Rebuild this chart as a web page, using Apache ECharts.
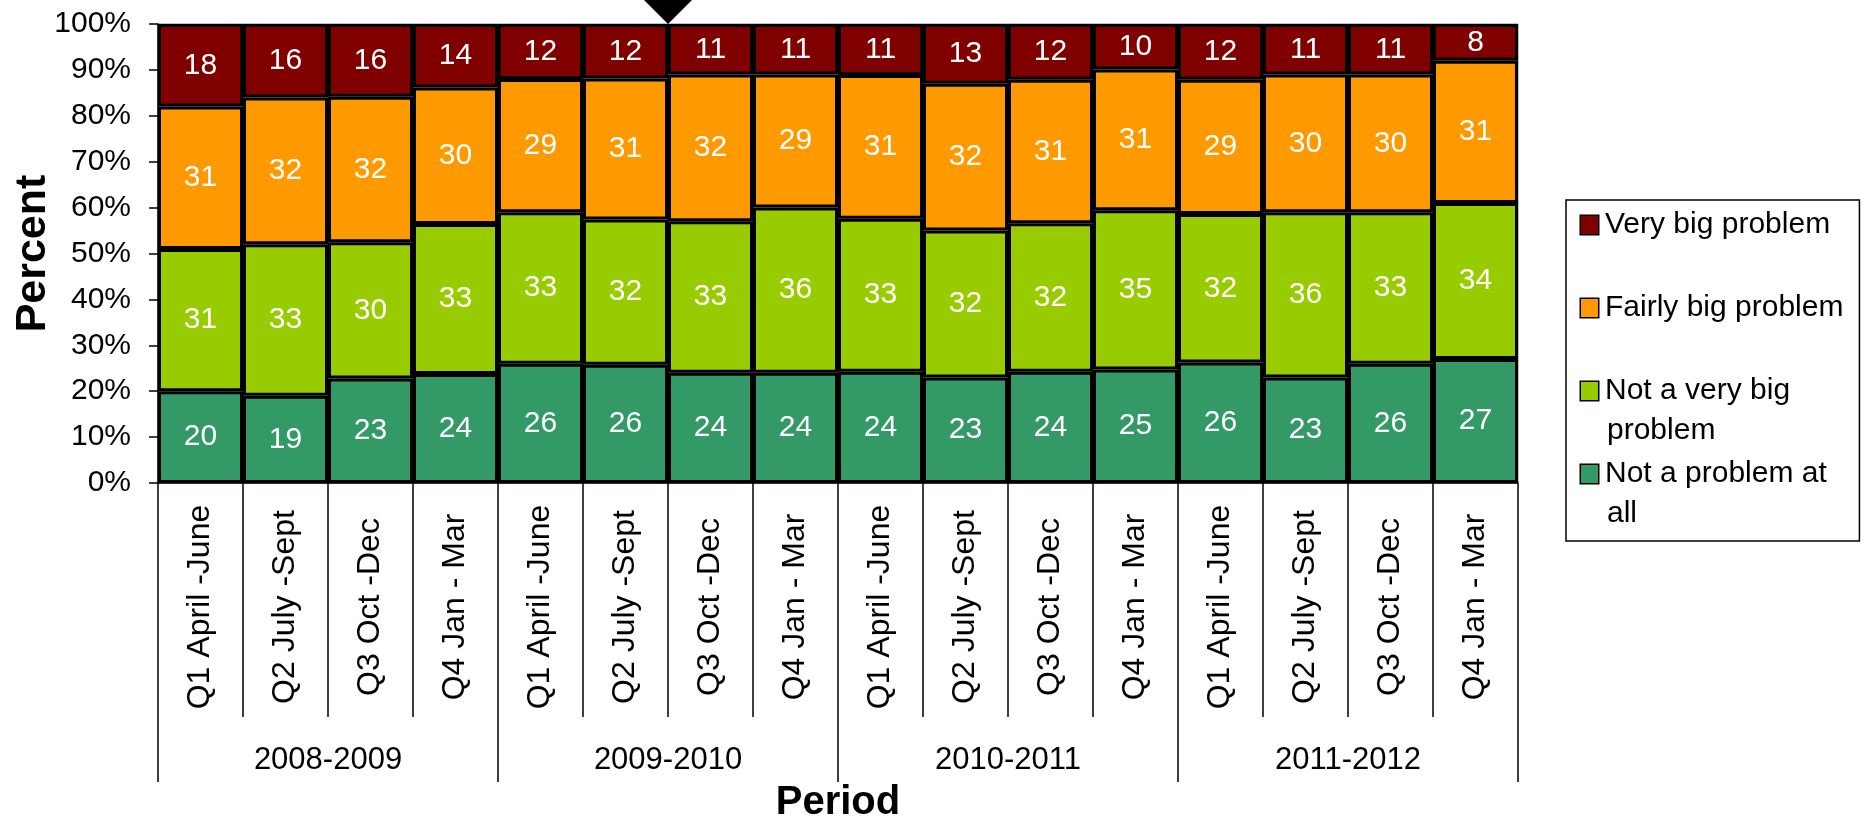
<!DOCTYPE html>
<html><head><meta charset="utf-8">
<script src="https://cdn.jsdelivr.net/npm/echarts@6/dist/echarts.min.js"></script>
<style>html,body{margin:0;padding:0;background:#fff;} #c{width:1866px;height:824px;}</style>
</head><body><div id="c"></div>
<script>
const categories = [
  'Q1 April -June','Q2 July -Sept','Q3 Oct -Dec','Q4 Jan - Mar',
  'Q1 April -June','Q2 July -Sept','Q3 Oct -Dec','Q4 Jan - Mar',
  'Q1 April -June','Q2 July -Sept','Q3 Oct -Dec','Q4 Jan - Mar',
  'Q1 April -June','Q2 July -Sept','Q3 Oct -Dec','Q4 Jan - Mar'
];
const years = ['2008-2009','2009-2010','2010-2011','2011-2012'];
const notAtAll   = [20,19,23,24,26,26,24,24,24,23,24,25,26,23,26,27];
const notVeryBig = [31,33,30,33,33,32,33,36,33,32,32,35,32,36,33,34];
const fairlyBig  = [31,32,32,30,29,31,32,29,31,32,31,31,29,30,30,31];
const veryBig    = [18,16,16,14,12,12,11,11,11,13,12,10,12,11,11,8];
const seriesNames = ['Not a problem at all','Not a very big problem','Fairly big problem','Very big problem'];
const colors = ['#339966','#99CC00','#FF9900','#800000'];
const yTicks = [0,10,20,30,40,50,60,70,80,90,100];

const FONT = "'Liberation Sans', Arial, sans-serif";
const raw = [notAtAll, notVeryBig, fairlyBig, veryBig];
const totals = categories.map((_, i) => raw.reduce((s, arr) => s + arr[i], 0));

const legendOrder = ['Very big problem','Fairly big problem','Not a very big problem','Not a problem at all'];
const legendLines = {
  'Very big problem': ['Very big problem',' '],
  'Fairly big problem': ['Fairly big problem',' '],
  'Not a very big problem': ['Not a very big','problem'],
  'Not a problem at all': ['Not a problem at','all']
};
const rich = {
  g: {width: 7, verticalAlign: 'middle'},
  e: {width: 19, verticalAlign: 'middle'},
  t: {fontSize: 30, lineHeight: 40, color: '#000', fontFamily: FONT, verticalAlign: 'middle'}
};
legendOrder.forEach((n, i) => {
  const ci = seriesNames.indexOf(n);
  rich['s' + i] = {width: 17, height: 18, backgroundColor: colors[ci], borderColor: '#000', borderWidth: 1.5, verticalAlign: 'middle'};
});

const series = raw.map((arr, si) => ({
  name: seriesNames[si],
  type: 'bar',
  stack: 'total',
  barCategoryGap: 0,
  xAxisIndex: 0,
  data: arr.map((v, i) => ({value: v / totals[i] * 100, raw: v})),
  itemStyle: {color: colors[si], borderColor: '#000', borderWidth: 3},
  label: {
    show: true, position: 'inside', color: '#fff', fontSize: 30, fontFamily: FONT,
    formatter: p => String(p.data.raw)
  }
}));

const chart = echarts.init(document.getElementById('c'), null, {renderer: 'canvas'});
chart.setOption({
  animation: false,
  backgroundColor: '#fff',
  textStyle: {fontFamily: FONT},
  grid: {left: 158, right: 348, top: 24, bottom: 341, outerBoundsMode: 'none', containLabel: false,
         show: true, borderColor: '#808080', borderWidth: 1, backgroundColor: 'transparent'},
  legend: {
    orient: 'vertical', left: 1566, top: 200,
    selectedMode: false,
    icon: 'none', itemWidth: 0, itemHeight: 0, itemGap: 13,
    borderColor: '#000', borderWidth: 1.5, backgroundColor: '#fff',
    padding: [10, 16, 12, 10],
    data: legendOrder,
    textStyle: {rich: rich},
    formatter: name => {
      const i = legendOrder.indexOf(name);
      return legendLines[name].map((l, j) => (j === 0 ? '{s' + i + '| }' : '{e| }') + '{g| }{t|' + l + '}').join('\n');
    }
  },
  xAxis: [{
    type: 'category', data: categories, position: 'bottom',
    axisLine: {show: true, lineStyle: {color: '#000', width: 1.5}},
    axisTick: {show: true, interval: 0, length: 234, lineStyle: {color: '#000', width: 1.5}},
    axisLabel: {interval: 0, rotate: 90, align: 'center', verticalAlign: 'middle', margin: 124, fontSize: 32, color: '#000', fontFamily: FONT},
    splitLine: {show: false}
  }, {
    type: 'category', data: years, position: 'bottom',
    axisLine: {show: false},
    axisTick: {show: true, interval: 0, length: 299, lineStyle: {color: '#000', width: 1.5}},
    axisLabel: {interval: 0, verticalAlign: 'middle', margin: 277, fontSize: 31, color: '#000', fontFamily: FONT},
    name: 'Period', nameLocation: 'middle', nameGap: 320, nameMoveOverlap: false,
    nameTextStyle: {fontSize: 40, fontWeight: 'bold', color: '#000', verticalAlign: 'middle', fontFamily: FONT},
    splitLine: {show: false}
  }],
  yAxis: {
    type: 'value', min: 0, max: 100, interval: 10,
    axisLine: {show: true, lineStyle: {color: '#000', width: 1.5}},
    axisTick: {show: true, length: 9, lineStyle: {color: '#000', width: 1.5}},
    axisLabel: {formatter: v => yTicks.includes(v) ? v + '%' : '', margin: 27, fontSize: 30, color: '#000', fontFamily: FONT},
    splitLine: {show: false},
    name: 'Percent', nameLocation: 'middle', nameGap: 125, nameMoveOverlap: false,
    nameTextStyle: {fontSize: 43, fontWeight: 'bold', color: '#000', verticalAlign: 'middle', fontFamily: FONT}
  },
  series: series
});

// marker arrow pointing at the boundary between the 6th and 7th bars at the top
const pA = chart.convertToPixel({xAxisIndex: 0, yAxisIndex: 0}, [5, 100]);
const pB = chart.convertToPixel({xAxisIndex: 0, yAxisIndex: 0}, [6, 100]);
const tipX = (pA[0] + pB[0]) / 2, tipY = pA[1];
chart.setOption({
  graphic: [{
    type: 'polygon', z: 100,
    shape: {points: [[tipX - 24, 0], [tipX + 24, 0], [tipX, tipY]]},
    style: {fill: '#000'}
  }]
});
</script></body></html>
